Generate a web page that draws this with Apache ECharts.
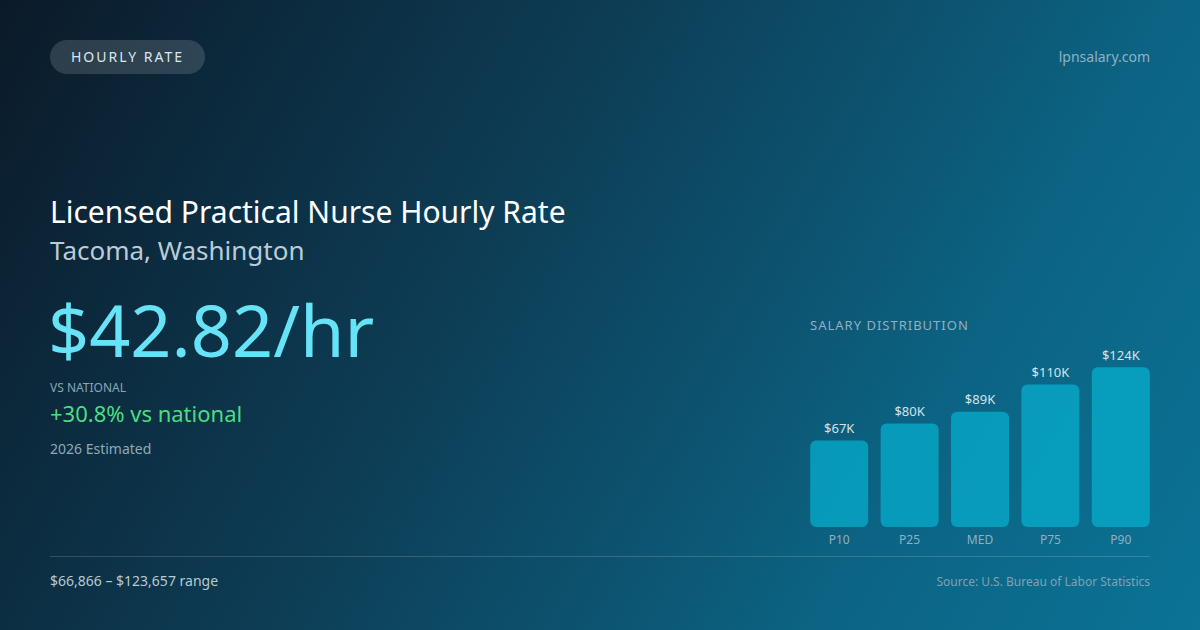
<!DOCTYPE html>
<html>
<head>
<meta charset="utf-8">
<script src="https://cdn.jsdelivr.net/npm/echarts@6/dist/echarts.min.js"></script>
<style>
  html, body { margin: 0; padding: 0; }
  body {
    width: 1200px; height: 630px; overflow: hidden; position: relative;
    font-family: "Noto Sans", "Open Sans", sans-serif;
    background: linear-gradient(120deg, #0b1a29 0%, #0d3d55 40%, #0c6383 75%, #0b7396 100%);
  }
  #chart { position: absolute; left: 0; top: 0; width: 1200px; height: 630px; }
  .t { position: absolute; white-space: nowrap; }
  .badge {
    position: absolute; left: 50px; top: 40px; width: 155px; height: 34px; border-radius: 17px;
    background: rgba(255,255,255,0.14); color: #dde6ed; font-size: 14px; letter-spacing: 2px;
    line-height: 34px; text-align: center;
  }
  .rule { position: absolute; left: 50px; top: 556px; width: 1100px; height: 1px; background: rgba(255,255,255,0.16); }
</style>
</head>
<body>
<div id="chart"></div>
<div class="badge">HOURLY RATE</div>
<div class="t" style="right:50px; top:47px; font-size:14px; color:#8db2c4;">lpnsalary.com</div>
<div class="t" style="left:50px; top:191px; font-size:30px; color:#ffffff;">Licensed Practical Nurse Hourly Rate</div>
<div class="t" style="left:50px; top:232px; font-size:26px; color:#b9ccd8;">Tacoma, Washington</div>
<div class="t" style="left:48px; top:280px; font-size:72px; color:#67e3f7;">$42.82/hr</div>
<div class="t" style="left:50px; top:379px; font-size:12px; color:#8aa6b6;">VS NATIONAL</div>
<div class="t" style="left:50px; top:398px; font-size:22px; color:#4ade80;">+30.8% vs national</div>
<div class="t" style="left:50px; top:439px; font-size:14px; color:#8fa9b8;">2026 Estimated</div>
<div class="t" style="left:810px; top:316px; font-size:13px; letter-spacing:1px; color:#8fb1c2;">SALARY DISTRIBUTION</div>
<div class="rule"></div>
<div class="t" style="left:50px; top:571px; font-size:14px; color:#b7c9d4;">$66,866 &ndash; $123,657 range</div>
<div class="t" style="right:50px; top:573px; font-size:12px; color:#7fa2b4;">Source: U.S. Bureau of Labor Statistics</div>
<script>
// salary percentiles (annual, USD)
const categories = ["P10", "P25", "MED", "P75", "P90"];
const salaries = [66866, 80100, 89100, 110200, 123657];

const chart = echarts.init(document.getElementById("chart"), null, { renderer: "svg" });

chart.setOption({
  backgroundColor: "transparent",
  animation: false,
  grid: { left: 804, right: 44, top: 359, bottom: 103 },
  xAxis: {
    type: "category",
    data: categories,
    axisLine: { show: false },
    axisTick: { show: false },
    axisLabel: { color: "#8fb1c2", fontSize: 12, margin: 6, fontFamily: "Noto Sans" }
  },
  yAxis: {
    type: "value",
    min: 0,
    max: 130000,
    show: false,
    splitLine: { show: false }
  },
  series: [{
    type: "bar",
    data: salaries,
    barWidth: 58,
    itemStyle: { color: "rgba(6,182,212,0.68)", borderRadius: 6 },
    label: {
      show: true,
      position: "top",
      distance: 6,
      color: "#d3e3ea",
      fontSize: 13,
      fontFamily: "Noto Sans",
      formatter: p => "$" + Math.round(p.value / 1000) + "K"
    }
  }]
});
</script>
</body>
</html>
